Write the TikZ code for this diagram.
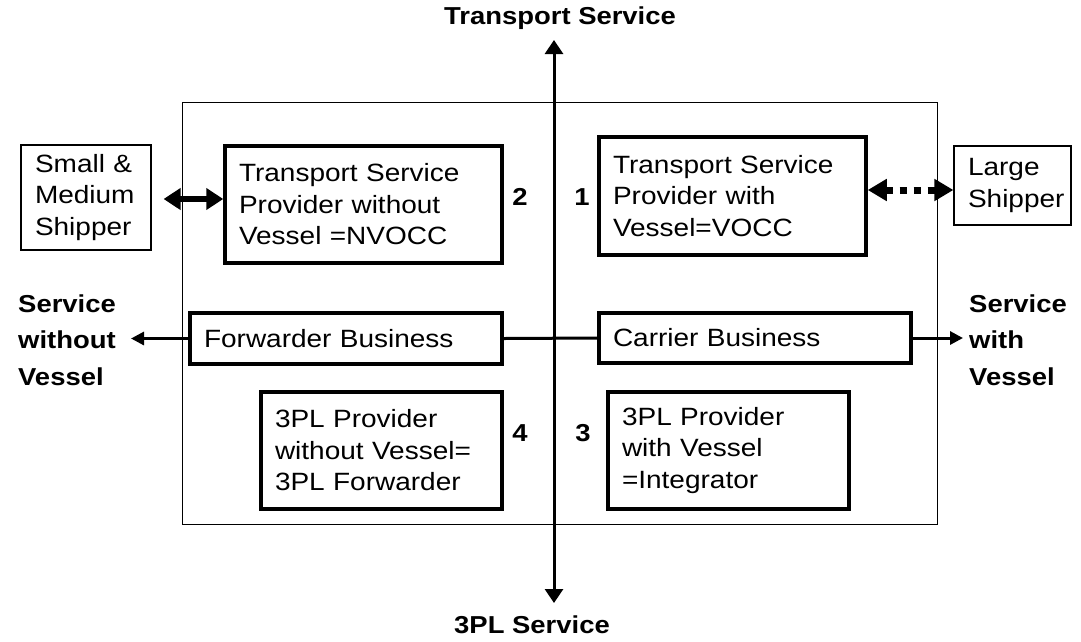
\documentclass[tikz,border=0pt]{standalone}
\usepackage{fontspec}
\setmainfont[FakeStretch=1.12]{Liberation Sans}
\usetikzlibrary{arrows.meta}
\newcommand\pbox[7]{%
  \pgfmathsetmacro\pbw{#4-#2}\pgfmathsetmacro\pbh{#5-#3}\pgfmathsetmacro\ptw{#4-#2-28}%
  \pgfmathsetmacro\pcx{(#2+#4)/2}\pgfmathsetmacro\pcy{(#3+#5)/2}%
  \node[#6, minimum width=\pbw pt, minimum height=\pbh pt, text width=\ptw pt,
        inner xsep=14pt, inner ysep=0pt] (#1) at (\pcx,\pcy) {#7};}
\begin{document}
\begin{tikzpicture}[x=1pt,y=-1pt,
  txt/.style={font=\fontsize{25}{31.5}\selectfont},
  thickbox/.style={draw, line width=3.5pt, align=left, txt},
  thinbox/.style={draw, line width=1.2pt, align=left, txt},
  framebox/.style={draw, line width=1pt},
  lbl/.style={font=\bfseries\fontsize{24.5}{36.5}\selectfont, align=left, inner sep=0pt},
  num/.style={font=\bfseries\fontsize{24.5}{30}\selectfont, inner sep=0pt},
  axis/.style={line width=3pt, {Triangle[length=14pt,width=18pt]}-{Triangle[length=14pt,width=18pt]}},
  bigarrow/.style={line width=5.5pt, {Triangle[length=17pt,width=21pt]}-{Triangle[length=17pt,width=21pt]}},
  dotarrow/.style={line width=7pt, dash pattern=on 7pt off 7pt, {Triangle[length=19pt,width=21pt]}-{Triangle[length=19pt,width=21pt]}},
  outarrow/.style={line width=3pt, -{Triangle[length=13pt,width=13pt]}},
  link/.style={line width=3pt}]
\fill[white] (0,0) rectangle (1081,641);
\useasboundingbox (0,0) rectangle (1081,641);

% frame
\pbox{frame}{182}{102}{937}{524}{framebox}{}

% boxes
\pbox{sm}{21}{145}{151}{250}{thinbox}{Small \&\\Medium\\Shipper}
\pbox{nv}{225}{146}{502}{263}{thickbox}{Transport Service\\Provider without\\Vessel =NVOCC}
\pbox{vo}{599}{137}{866}{255}{thickbox}{Transport Service\\Provider with\\Vessel=VOCC}
\pbox{lg}{954}{146}{1071}{225}{thinbox}{Large\\Shipper}
\pbox{fw}{190}{313}{502}{364}{thickbox}{Forwarder Business}
\pbox{ca}{599}{313}{911}{363}{thickbox}{Carrier Business}
\pbox{tw}{261}{392}{502}{509}{thickbox}{3PL Provider\\without Vessel=\\3PL Forwarder}
\pbox{ti}{608}{392}{849}{509}{thickbox}{3PL Provider\\with Vessel\\=Integrator}

% labels
\node[lbl] (ts) at (560,18) {Transport Service};
\node[lbl] (ps) at (532,625) {3PL Service};
\node[lbl, anchor=west] (swo) at (18,340) {Service\\without\\Vessel};
\node[lbl, anchor=west] (sw) at (969,340) {Service\\with\\Vessel};
\node[num] (n2) at (520,197) {2};
\node[num] (n1) at (582,197) {1};
\node[num] (n4) at (520,433) {4};
\node[num] (n3) at (583,433) {3};

% axis
\coordinate (atop) at (554,40);
\coordinate (abot) at (554,603);
\draw[axis] (atop) -- (abot);

% connectors
\draw[bigarrow, shorten <=12pt] ([yshift=-1.5pt]sm.east) -- ([yshift=-1.5pt]sm.east -| nv.west);
\coordinate (dr) at ([yshift=-4.5pt]lg.west);
\draw[dotarrow] (dr -| vo.east) -- (dr);
\draw[link] (fw.east) -- (ca.west);
\coordinate (wl) at (131,338.5);
\coordinate (wr) at (963,338);
\draw[outarrow] (fw.west) -- (wl);
\draw[outarrow] (ca.east) -- (wr);
\end{tikzpicture}
\end{document}
